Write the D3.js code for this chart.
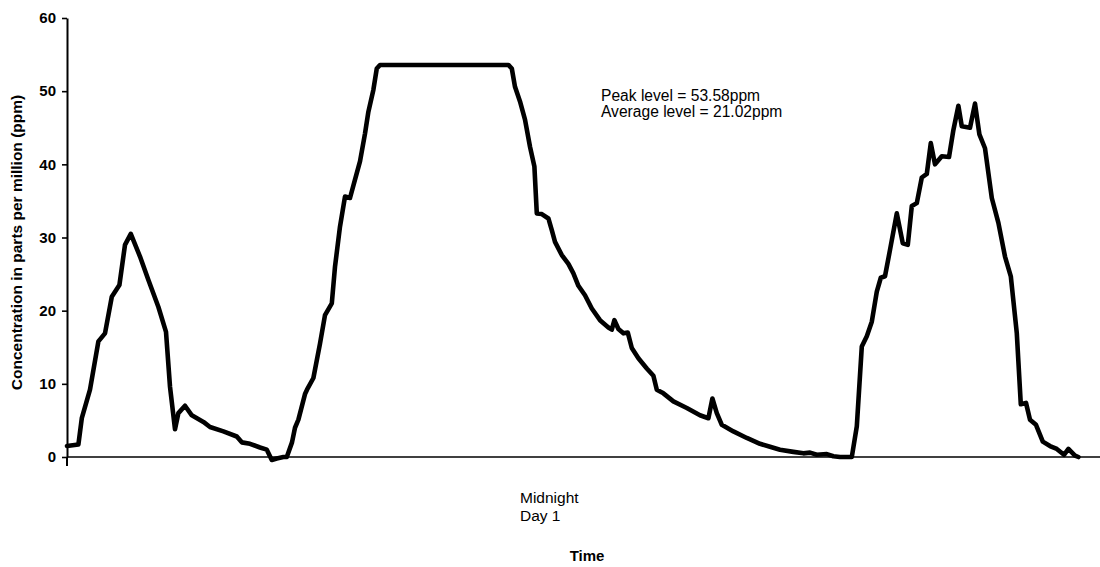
<!DOCTYPE html>
<html>
<head>
<meta charset="utf-8">
<script src="https://cdn.jsdelivr.net/npm/d3@7"></script>
<style>
  html, body { margin: 0; padding: 0; background: #fff; }
  svg { display: block; }
  text { font-family: "Liberation Sans", Arial, sans-serif; fill: #000; }
</style>
</head>
<body>
<svg id="chart" width="1100" height="567"></svg>
<script>
// Elapsed time in hours from the start of the record
const hours = [
  0.0, 0.57, 0.74, 1.15, 1.57, 1.9, 2.24, 2.62, 2.9, 3.19, 3.65, 4.07, 4.57, 4.95,
  5.15, 5.4, 5.57, 5.9, 6.24, 6.82, 7.15, 7.82, 8.49, 8.74, 9.15, 9.65, 9.99,
  10.24, 10.49, 10.82, 10.99, 11.25, 11.4, 11.57, 11.9, 12.0, 12.32, 12.65, 12.9,
  13.24, 13.4, 13.65, 13.9, 14.15, 14.4, 14.65, 14.9, 15.07, 15.32, 15.49, 15.65,
  22.07, 22.24, 22.4, 22.65, 22.9, 23.15, 23.37, 23.49, 23.74, 24.07, 24.24, 24.4,
  24.74, 25.07, 25.32, 25.57, 25.9, 26.24, 26.65, 27.07, 27.24, 27.37, 27.57,
  27.82, 28.04, 28.24, 28.57, 28.99, 29.32, 29.49, 29.82, 30.32, 30.99, 31.65,
  32.07, 32.27, 32.49, 32.74, 33.32, 33.99, 34.65, 35.15, 35.65, 36.32, 36.82,
  37.15, 37.49, 37.99, 38.32, 38.65, 39.24, 39.49, 39.74, 39.99, 40.24, 40.49,
  40.69, 40.9, 41.15, 41.49, 41.79, 42.04, 42.24, 42.49, 42.74, 42.99, 43.19,
  43.4, 43.74, 44.1, 44.32, 44.57, 44.74, 45.15, 45.4, 45.62, 45.9, 46.24, 46.57,
  46.9, 47.19, 47.49, 47.69, 47.95, 48.15, 48.45, 48.79, 49.15, 49.49, 49.85,
  50.07, 50.4, 50.57
];

// Measured concentration (ppm) at each time
const ppm = [
  1.5, 1.7, 5.3, 9.2, 15.8, 16.9, 21.9, 23.5, 29.0, 30.5, 27.4, 24.2, 20.5, 17.1,
  9.6, 3.8, 6.0, 7.0, 5.7, 4.8, 4.1, 3.5, 2.8, 2.0, 1.8, 1.3, 1.0,
  -0.4, -0.2, 0.0, 0.0, 2.0, 4.0, 5.1, 8.6, 9.2, 10.8, 15.5, 19.4,
  21.0, 26.0, 31.5, 35.6, 35.4, 37.9, 40.4, 44.2, 47.2, 50.2, 53.1, 53.58,
  53.58, 53.1, 50.6, 48.6, 46.1, 42.4, 39.7, 33.3, 33.2, 32.6, 31.0, 29.4,
  27.6, 26.4, 25.1, 23.4, 22.1, 20.3, 18.7, 17.7, 17.4, 18.7, 17.5,
  16.9, 17.0, 14.9, 13.5, 12.1, 11.1, 9.2, 8.7, 7.6, 6.7, 5.7,
  5.3, 8.0, 6.0, 4.4, 3.5, 2.6, 1.8, 1.4, 1.0, 0.7, 0.5,
  0.6, 0.3, 0.4, 0.1, 0.0, 0.0, 4.2, 15.1, 16.5, 18.5, 22.6,
  24.5, 24.7, 28.3, 33.3, 29.2, 29.0, 34.3, 34.7, 38.2, 38.7, 42.9,
  40.0, 41.1, 41.0, 44.7, 48.0, 45.2, 45.0, 48.3, 44.1, 42.2, 35.4, 32.0,
  27.4, 24.7, 16.9, 7.2, 7.4, 5.1, 4.4, 2.1, 1.5, 1.1, 0.3,
  1.1, 0.2, 0.0
];

const yTicks = [0, 10, 20, 30, 40, 50, 60];
const timeSpan = [0, 51.65];
const midnightHour = 24;
const axisLabels = {
  y: "Concentration in parts per million (ppm)",
  x: "Time",
  midnight: ["Midnight", "Day 1"],
  notes: ["Peak level = 53.58ppm", "Average level = 21.02ppm"]
};

const svg = d3.select("#chart");
const plot = { left: 67, right: 1100, top: 18, bottom: 457 };

const x = d3.scaleLinear().domain(timeSpan).range([plot.left, plot.right]);
const y = d3.scaleLinear().domain([0, 60]).range([plot.bottom, plot.top]);

// Horizontal baseline at zero
svg.append("line")
  .attr("x1", plot.left).attr("x2", plot.right)
  .attr("y1", y(0)).attr("y2", y(0))
  .attr("stroke", "#000").attr("stroke-width", 1.6);

// Vertical value axis
const yAxis = d3.axisLeft(y).tickValues(yTicks).tickSize(5).tickSizeOuter(0).tickPadding(6);
const gy = svg.append("g").attr("transform", `translate(${plot.left},0)`).call(yAxis);
gy.select(".domain").attr("stroke", "#000").attr("stroke-width", 2);
gy.selectAll(".tick line").attr("stroke", "#000").attr("stroke-width", 1.6);
gy.selectAll(".tick text")
  .style("font-family", '"Liberation Sans", Arial, sans-serif')
  .style("font-size", "15px").style("font-weight", "bold").attr("fill", "#000");
svg.append("line")
  .attr("x1", plot.left).attr("x2", plot.left)
  .attr("y1", y(0)).attr("y2", y(0) + 9)
  .attr("stroke", "#000").attr("stroke-width", 2);

// Concentration trace
const series = hours.map((h, i) => ({ h, v: ppm[i] }));
svg.append("path")
  .datum(series)
  .attr("fill", "none")
  .attr("stroke", "#000")
  .attr("stroke-width", 4.6)
  .attr("stroke-linejoin", "round")
  .attr("stroke-linecap", "round")
  .attr("d", d3.line().x(d => x(d.h)).y(d => y(d.v)));

// Axis titles
svg.append("text")
  .attr("transform", `translate(22,${(plot.top + plot.bottom) / 2 + 5}) rotate(-90)`)
  .attr("text-anchor", "middle")
  .style("font-size", "15.5px").style("font-weight", "bold")
  .text(axisLabels.y);

const mx = x(midnightHour) - 27;
axisLabels.midnight.forEach((t, i) => {
  svg.append("text")
    .attr("x", mx).attr("y", 503 + i * 18)
    .style("font-size", "15.5px")
    .text(t);
});

svg.append("text")
  .attr("x", x(midnightHour) + 40).attr("y", 561)
  .attr("text-anchor", "middle")
  .style("font-size", "15px").style("font-weight", "bold")
  .text(axisLabels.x);

// Summary statistics
axisLabels.notes.forEach((t, i) => {
  svg.append("text")
    .attr("x", 601).attr("y", 101 + i * 16)
    .style("font-size", "15.6px")
    .text(t);
});
</script>
</body>
</html>
